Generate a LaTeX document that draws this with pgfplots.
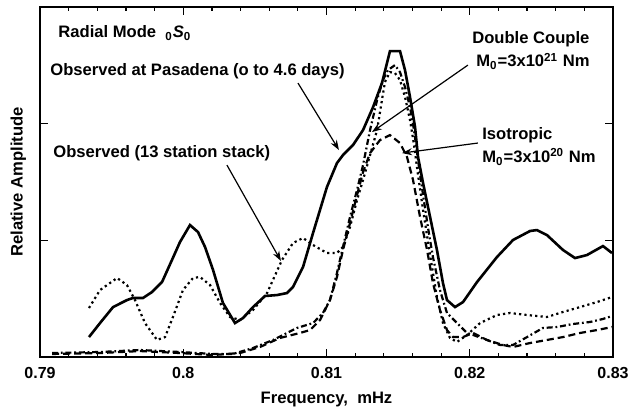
\documentclass[border=0pt]{standalone}
\usepackage{fontspec}
\setmainfont{Liberation Sans}
\usepackage{pgfplots}
\pgfplotsset{compat=1.18}
\usetikzlibrary{arrows.meta,calc}

% spectra of the radial mode
\pgfplotstableread{
f a
0.79342 0.171
0.79419 0.291
0.79510 0.428
0.79607 0.488
0.79649 0.506
0.79719 0.506
0.79782 0.557
0.79852 0.643
0.79921 0.831
0.79977 0.985
0.80047 1.131
0.80103 1.071
0.80152 0.943
0.80208 0.746
0.80277 0.463
0.80361 0.291
0.80417 0.334
0.80487 0.428
0.80571 0.523
0.80654 0.531
0.80724 0.548
0.80766 0.600
0.80836 0.771
0.80906 1.063
0.81003 1.457
0.81073 1.662
0.81115 1.731
0.81185 1.817
0.81255 1.945
0.81325 2.142
0.81387 2.348
0.81443 2.622
0.81513 2.622
0.81548 2.459
0.81583 2.228
0.81618 1.971
0.81639 1.714
0.81674 1.491
0.81723 1.200
0.81771 0.917
0.81813 0.634
0.81841 0.488
0.81897 0.428
0.81953 0.471
0.82051 0.643
0.82190 0.857
0.82302 1.003
0.82421 1.080
0.82469 1.088
0.82539 1.045
0.82651 0.917
0.82735 0.848
0.82818 0.874
0.82930 0.951
0.82993 0.891
}\pasadena

\pgfplotstableread{
f a
0.79342 0.420
0.79419 0.574
0.79538 0.677
0.79607 0.617
0.79663 0.488
0.79733 0.291
0.79817 0.146
0.79873 0.171
0.79928 0.343
0.79998 0.574
0.80068 0.677
0.80117 0.686
0.80187 0.617
0.80257 0.463
0.80326 0.343
0.80396 0.317
0.80487 0.403
0.80585 0.548
0.80689 0.831
0.80766 0.977
0.80836 1.020
0.80906 0.960
0.81003 0.891
0.81073 0.891
0.81115 0.943
0.81164 1.114
0.81213 1.345
0.81255 1.517
0.81304 1.731
0.81353 1.945
0.81387 2.202
0.81408 2.357
0.81443 2.442
0.81478 2.434
0.81513 2.374
0.81548 2.228
0.81583 2.031
0.81611 1.817
0.81639 1.560
0.81674 1.260
0.81723 0.874
0.81771 0.514
0.81813 0.291
0.81862 0.163
0.81911 0.129
0.81981 0.189
0.82072 0.291
0.82190 0.360
0.82281 0.377
0.82400 0.360
0.82539 0.343
0.82651 0.386
0.82770 0.428
0.82888 0.471
0.82993 0.514
}\stack

\pgfplotstableread{
f a
0.79084 0.034
0.79419 0.043
0.79698 0.060
0.79977 0.043
0.80208 0.026
0.80347 0.026
0.80487 0.077
0.80627 0.146
0.80794 0.249
0.80906 0.291
0.80975 0.377
0.81024 0.488
0.81073 0.720
0.81115 0.943
0.81164 1.200
0.81213 1.431
0.81255 1.645
0.81304 1.945
0.81353 2.202
0.81394 2.374
0.81429 2.459
0.81478 2.502
0.81513 2.442
0.81548 2.314
0.81583 2.142
0.81611 1.945
0.81639 1.688
0.81674 1.388
0.81709 1.105
0.81743 0.857
0.81792 0.574
0.81841 0.377
0.81911 0.291
0.81981 0.206
0.82023 0.189
0.82120 0.146
0.82211 0.103
0.82302 0.103
0.82400 0.171
0.82511 0.249
0.82609 0.257
0.82721 0.283
0.82839 0.300
0.82930 0.326
0.82993 0.351
}\dcouple

\pgfplotstableread{
f a
0.79084 0.026
0.79419 0.034
0.79698 0.051
0.79977 0.034
0.80208 0.017
0.80396 0.034
0.80536 0.086
0.80675 0.163
0.80815 0.206
0.80885 0.231
0.80955 0.317
0.81024 0.488
0.81073 0.686
0.81115 0.917
0.81164 1.148
0.81213 1.388
0.81255 1.585
0.81304 1.748
0.81373 1.859
0.81443 1.902
0.81513 1.834
0.81562 1.714
0.81604 1.517
0.81653 1.200
0.81702 0.917
0.81743 0.634
0.81792 0.403
0.81841 0.231
0.81883 0.171
0.81953 0.171
0.82023 0.206
0.82120 0.146
0.82232 0.103
0.82302 0.086
0.82421 0.120
0.82539 0.146
0.82651 0.171
0.82770 0.206
0.82888 0.231
0.82993 0.257
}\isotropic

\begin{document}
\begin{tikzpicture}
\begin{axis}[
    name=ax,
    scale only axis,
    width=286.5pt, height=175pt,
    xmin=0.79, xmax=0.83,
    ymin=0, ymax=3,
    xtick={0.79,0.80,0.81,0.82,0.83},
    xticklabels={0.79,0.8,0.81,0.82,0.83},
    minor x tick num=4,
    ytick={1,2},
    yticklabels={},
    tick align=inside,
    major tick length=4pt,
    minor tick length=2pt,
    axis line style={line width=1pt},
    every tick/.style={black, line width=0.6pt},
    ticklabel style={font=\bfseries\fontsize{8}{9.6}\selectfont},
    xticklabel style={yshift=-1.5pt},
    xlabel={Frequency,\ \ mHz},
    ylabel={Relative Amplitude},
    label style={font=\bfseries\fontsize{8.3}{10}\selectfont},
    ylabel style={at={(axis description cs:-0.012,0.5)}, anchor=south},
    clip=false,
]
\addplot[black, line width=1.3pt] table {\pasadena};
\addplot[black, line width=1.1pt, dash pattern=on 1.1pt off 1.6pt] table {\stack};
\addplot[black, line width=1.1pt, dash pattern=on 3pt off 1.4pt on 0.9pt off 1.4pt] table {\dcouple};
\addplot[black, line width=1.1pt, dash pattern=on 3.5pt off 2pt] table {\isotropic};

\begin{scope}[every node/.style={anchor=west, inner sep=0pt, font=\bfseries\fontsize{8.3}{10}\selectfont}]
\node at (axis cs:0.79126,2.776) {Radial Mode\ \ \textsubscript{0}\textit{S}\textsubscript{0}};
\node at (axis cs:0.7907,2.451) {Observed at Pasadena (o to 4.6 days)};
\node at (axis cs:0.79091,1.748) {Observed (13 station stack)};
\node at (axis cs:0.82015,2.725) {Double Couple};
\node at (axis cs:0.82043,2.536) {M\textsubscript{0}=3x10\textsuperscript{21} Nm};
\node at (axis cs:0.82085,1.902) {Isotropic};
\node at (axis cs:0.82085,1.714) {M\textsubscript{0}=3x10\textsuperscript{20} Nm};
\end{scope}

\draw[line width=0.6pt, -{Stealth[length=5pt,width=3.5pt]}] (axis cs:0.80801,2.348) -- (axis cs:0.81087,1.774);
\draw[line width=0.6pt, -{Stealth[length=5pt,width=3.5pt]}] (axis cs:0.80305,1.645) -- (axis cs:0.80682,0.823);
\draw[line width=0.6pt, -{Stealth[length=5pt,width=3.5pt]}] (axis cs:0.81987,2.502) -- (axis cs:0.81317,1.928);
\draw[line width=0.6pt, -{Stealth[length=5pt,width=3.5pt]}] (axis cs:0.82057,1.834) -- (axis cs:0.81527,1.748);
\end{axis}
\pgfresetboundingbox
\path ($(ax.south west)+(-20pt,-25pt)$) rectangle ($(ax.north east)+(8pt,3.5pt)$);
\end{tikzpicture}
\end{document}
